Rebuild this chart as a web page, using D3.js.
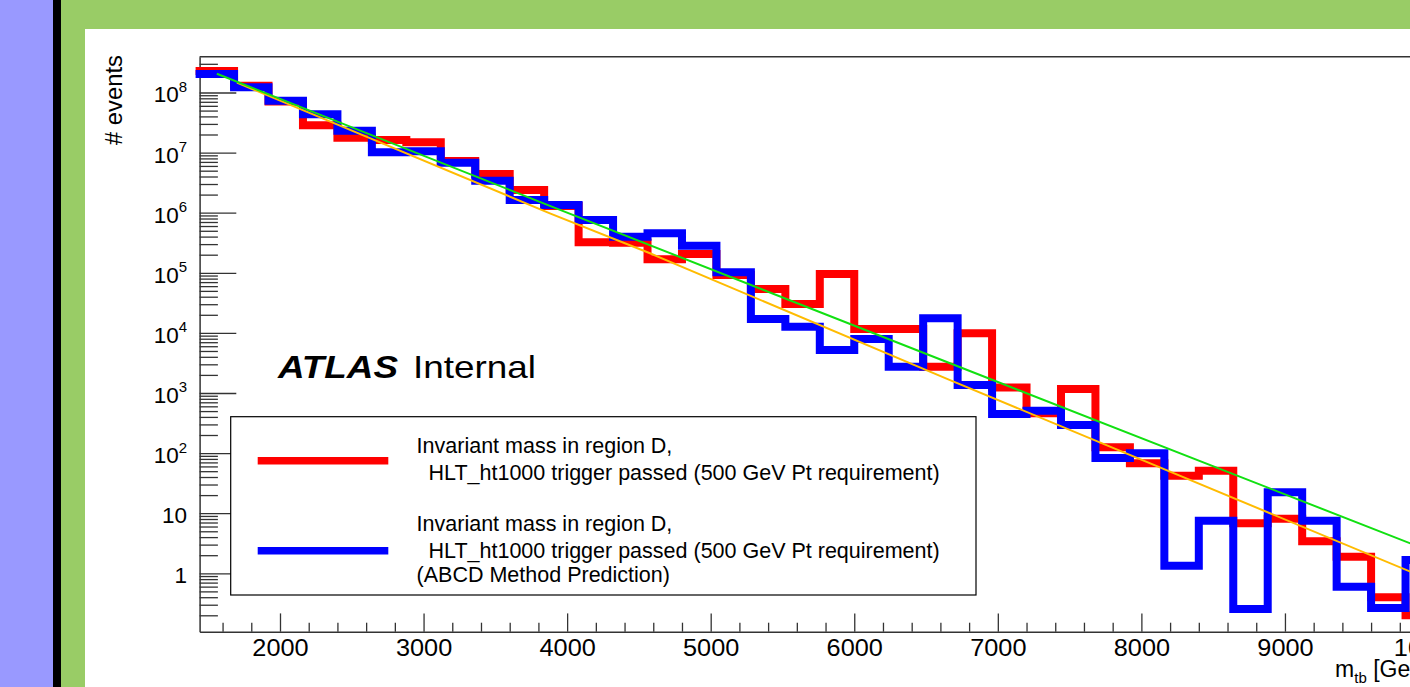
<!DOCTYPE html>
<html>
<head>
<meta charset="utf-8">
<title>m_tb in region D</title>
<script src="https://d3js.org/d3.v7.min.js"></script>
<style>
    body { margin: 0; overflow: hidden; background: #9999ff; }
    svg { display: block; font-family: "Liberation Sans", Arial, Helvetica, sans-serif; }
</style>
</head>
<body>
<script>

    // 240 GeV bins starting at 1440 GeV
    var binStart = 1440, binWidth = 240, nBins = 36;
    var binEdges = d3.range(nBins + 1).map(function (i) { return binStart + i * binWidth; });

    // region D, HLT_ht1000 passed (red)
    var regionD = [2.28e8, 1.29e8, 7.1e7, 2.85e7, 1.77e7, 1.62e7, 1.48e7, 7.25e6, 4.4e6, 2.39e6,
        1.29e6, 3.22e5, 3.17e5, 1.68e5, 2.06e5, 9.2e4, 5.37e4, 3.03e4, 9.55e4, 1.16e4,
        1.16e4, 2.74e3, 9.84e3, 1.24e3, 459, 1.17e3, 125, 67.6, 42.0, 50.9,
        6.8, 8.1, 3.41, 1.89, 0.40, 0.20];

    // region D, ABCD method prediction (blue)
    var abcdPred = [2.03e8, 1.22e8, 7.3e7, 4.36e7, 2.31e7, 1.01e7, 1.05e7, 6.79e6, 3.41e6, 1.63e6,
        1.34e6, 7.56e5, 3.99e5, 4.54e5, 2.83e5, 1.02e5, 1.70e4, 1.27e4, 5.19e3, 7.92e3,
        2.74e3, 1.75e4, 1.36e3, 447, 508, 294, 82.9, 99.3, 1.34, 7.5,
        0.255, 22.3, 7.5, 0.60, 0.265, 1.66];

    // fit curves, points
    var greenFitX = [1560, 3880, 6667, 9880];
    var greenFitY = [2.05e8, 1.30e6, 3.12e3, 3.1];
    var orangeFitX = [1700, 3880, 4577, 6667, 9880];
    var orangeFitY = [1.46e8, 9.77e5, 2.11e5, 1.64e3, 1.05];

    // axis ticks
    var xMajor = [2000, 3000, 4000, 5000, 6000, 7000, 8000, 9000, 10000];
    var xMinor = d3.range(1600, 10001, 200).filter(function (v) { return v % 1000 !== 0; });
    var yMajor = [1, 10, 1e2, 1e3, 1e4, 1e5, 1e6, 1e7, 1e8];
    var yMinor = [];
    for (var k = -1; k <= 8; k++) {
        for (var m = 2; m <= 9; m++) yMinor.push(m * Math.pow(10, k));
    }

    var legendTexts = [
        ["Invariant mass in region D,", "  HLT_ht1000 trigger passed (500 GeV Pt requirement)"],
        ["Invariant mass in region D,", "  HLT_ht1000 trigger passed (500 GeV Pt requirement)", "(ABCD Method Prediction)"]
    ];

    var W = 1410, H = 687;
    var svg = d3.select("body").append("svg").attr("width", W).attr("height", H);

    // page background
    svg.append("rect").attr("width", W).attr("height", H).attr("fill", "#9999ff");
    svg.append("rect").attr("x", 53).attr("width", 8).attr("height", H).attr("fill", "#000");
    svg.append("rect").attr("x", 61).attr("width", W - 61).attr("height", H).attr("fill", "#99cc66");
    svg.append("rect").attr("x", 85).attr("y", 29).attr("width", W - 85).attr("height", H - 29).attr("fill", "#fff");

    var plotLeft = 199.6, plotRight = 1440, plotTop = 56.7, plotBottom = 631.7;

    var x = d3.scaleLinear().domain([1440, 10080]).range([plotLeft, plotRight]);
    var y = d3.scaleLog().domain([0.1067, 3.94e8]).range([plotBottom, plotTop]);

    var axisColor = "#333";

    //x axis: minor then major
    var gxMinor = svg.append("g").attr("transform", "translate(0," + plotBottom + ")")
        .call(d3.axisBottom(x).tickValues(xMinor).tickSizeInner(-9).tickSizeOuter(0).tickFormat(""));
    gxMinor.select(".domain").remove();

    var gx = svg.append("g").attr("transform", "translate(0," + plotBottom + ")")
        .call(d3.axisBottom(x).tickValues(xMajor).tickSizeInner(-18.3).tickSizeOuter(0)
            .tickFormat(d3.format("d")));
    gx.selectAll("text")
        .attr("y", 24.5).attr("dy", 0)
        .attr("font-size", 23).attr("fill", "#000")
        .each(function () {
            this.setAttribute("textLength", this.getComputedTextLength() * 1.1);
            this.setAttribute("lengthAdjust", "spacingAndGlyphs");
        });

    //y axis: minor then major
    var gyMinor = svg.append("g").attr("transform", "translate(" + plotLeft + ",0)")
        .call(d3.axisLeft(y).tickValues(yMinor.filter(function (v) { return v > 0.1067 && v < 3.94e8; }))
            .tickSizeInner(-18.3).tickSizeOuter(0).tickFormat(""));
    gyMinor.select(".domain").remove();

    var gy = svg.append("g").attr("transform", "translate(" + plotLeft + ",0)")
        .call(d3.axisLeft(y).tickValues(yMajor).tickSizeInner(-36.7).tickSizeOuter(0).tickFormat(""));
    gy.selectAll(".tick text").each(function (d) {
        var t = d3.select(this).attr("x", -12.6).attr("dy", 9.5)
            .attr("font-size", 22.5).attr("fill", "#000").attr("text-anchor", "end");
        var e = Math.round(Math.log10(d));
        if (e === 0) t.text("1");
        else if (e === 1) t.text("10");
        else {
            t.append("tspan").text("10");
            t.append("tspan").attr("dy", -10.5).attr("font-size", 15).text(e);
        }
    });

    svg.selectAll(".domain").attr("stroke", axisColor).attr("stroke-width", 1.5);
    svg.selectAll(".tick line").attr("stroke", axisColor).attr("stroke-width", 1.3);

    // top of frame
    svg.append("line")
        .attr("x1", plotLeft).attr("x2", plotRight)
        .attr("y1", plotTop).attr("y2", plotTop)
        .attr("stroke", axisColor).attr("stroke-width", 1.5);

    // axis titles
    var xt = svg.append("text")
        .attr("x", 1432).attr("y", 676.5)
        .attr("text-anchor", "end").attr("font-size", 23);
    xt.append("tspan").text("m");
    xt.append("tspan").attr("font-size", 15).attr("dy", 6).text("tb");
    xt.append("tspan").attr("dy", -6).text(" [GeV]");

    svg.append("text")
        .attr("transform", "translate(122,55) rotate(-90)")
        .attr("text-anchor", "end").attr("font-size", 23)
        .attr("textLength", 90).attr("lengthAdjust", "spacingAndGlyphs")
        .text("# events");

    // histograms
    function stepPoints(vals) {
        var pts = [];
        vals.forEach(function (v, i) {
            pts.push([binEdges[i], v]);
            pts.push([binEdges[i + 1], v]);
        });
        return pts;
    }

    var line = d3.line()
        .x(function (d) { return x(d[0]); })
        .y(function (d) { return y(d[1]); });

    svg.append("path")
        .attr("d", line(stepPoints(regionD)))
        .attr("fill", "none").attr("stroke", "#ff0000").attr("stroke-width", 8)
        .attr("stroke-linecap", "square");

    svg.append("path")
        .attr("d", line(stepPoints(abcdPred)))
        .attr("fill", "none").attr("stroke", "#0000ff").attr("stroke-width", 8)
        .attr("stroke-linecap", "square");

    // fits
    svg.append("path")
        .attr("d", line(d3.zip(orangeFitX, orangeFitY)))
        .attr("fill", "none").attr("stroke", "#ffbb00").attr("stroke-width", 2);

    svg.append("path")
        .attr("d", line(d3.zip(greenFitX, greenFitY)))
        .attr("fill", "none").attr("stroke", "#11e011").attr("stroke-width", 2);

    // ATLAS label
    svg.append("text")
        .attr("x", 278).attr("y", 377.5)
        .attr("font-size", 32).attr("font-weight", "bold").attr("font-style", "italic")
        .attr("textLength", 120).attr("lengthAdjust", "spacingAndGlyphs")
        .text("ATLAS");
    svg.append("text")
        .attr("x", 413).attr("y", 377.5)
        .attr("font-size", 32)
        .attr("textLength", 123).attr("lengthAdjust", "spacingAndGlyphs")
        .text("Internal");

    // legend
    var legend = svg.append("g");
    legend.append("rect")
        .attr("x", 230.7).attr("y", 416.7).attr("width", 745.3).attr("height", 178.3)
        .attr("fill", "#fff").attr("stroke", "#000").attr("stroke-width", 1.2);

    var entryColors = ["#ff0000", "#0000ff"];
    var entryLineY = [460.7, 550.7];
    var entryBaselines = [[452.5, 479.5], [530.5, 557.5, 582]];

    entryColors.forEach(function (c, i) {
        legend.append("line")
            .attr("x1", 257.7).attr("x2", 388.3)
            .attr("y1", entryLineY[i]).attr("y2", entryLineY[i])
            .attr("stroke", c).attr("stroke-width", 7.5);
        legendTexts[i].forEach(function (s, j) {
            legend.append("text")
                .attr("x", 416.6).attr("y", entryBaselines[i][j])
                .attr("font-size", 21.5)
                .style("white-space", "pre")
                .text(s);
        });
    });

</script>
</body>
</html>
